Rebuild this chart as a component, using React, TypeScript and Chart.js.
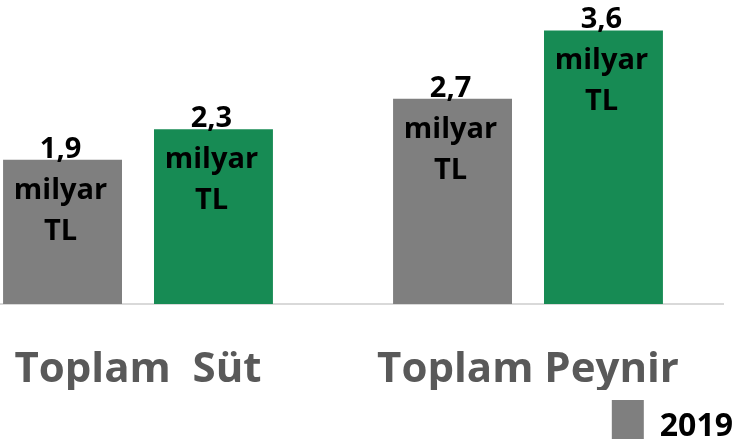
import { useEffect, useRef } from "react";
import { Chart, registerables } from "chart.js";

Chart.register(...registerables);

const categories = ["Toplam  Süt", "Toplam Peynir"];
const seriesLabels = ["2019", "2020"];
const values2019 = [1.9, 2.7];
const values2020 = [2.3, 3.6];
const unitLines = ["milyar", "TL"];
const legendShown = ["2019"];

const GRAY = "#7f7f7f";
const GREEN = "#178b54";
const FONT = "'Open Sans', sans-serif";

const fmt = (v: number) => v.toFixed(1).replace(".", ",");

const barLabels = {
  id: "barLabels",
  afterDatasetsDraw(chart: any) {
    const ctx = chart.ctx;
    ctx.save();
    ctx.font = `bold 29px ${FONT}`;
    ctx.fillStyle = "#000";
    ctx.textAlign = "center";
    ctx.textBaseline = "alphabetic";
    chart.data.datasets.forEach((ds: any, di: number) => {
      const meta = chart.getDatasetMeta(di);
      meta.data.forEach((bar: any, i: number) => {
        const lines = [fmt(ds.data[i]), ...unitLines];
        lines.forEach((t, li) => ctx.fillText(t, bar.x - 2, bar.y - 2 + li * 41));
      });
    });
    ctx.restore();
  },
};

export default function App() {
  const ref = useRef<HTMLCanvasElement>(null);
  useEffect(() => {
    const chart = new Chart(ref.current!, {
      type: "bar",
      data: {
        labels: categories,
        datasets: [
          { label: seriesLabels[0], data: values2019, backgroundColor: GRAY, borderWidth: 0 },
          { label: seriesLabels[1], data: values2020, backgroundColor: GREEN, borderWidth: 0 },
        ],
      },
      options: {
        animation: false,
        responsive: true,
        maintainAspectRatio: false,
        layout: { padding: 0 },
        datasets: { bar: { categoryPercentage: 0.774, barPercentage: 0.788 } },
        scales: {
          x: {
            grid: { display: false, drawTicks: true, tickLength: 46 },
            border: { display: true, color: "#d9d9d9", width: 2 },
            ticks: {
              autoSkip: false,
              maxRotation: 0,
              padding: 0,
              color: "#595959",
              font: { family: FONT, size: 42, weight: "bold", lineHeight: 0.95 },
            },
          },
          y: {
            position: "right",
            min: 0,
            max: 4,
            grid: { display: false, drawTicks: false },
            border: { display: false },
            ticks: { display: false },
            afterFit: (scale: any) => {
              scale.width = 20;
            },
          },
        },
        plugins: {
          legend: {
            position: "bottom",
            align: "end",
            labels: {
              filter: (item: any) => legendShown.includes(item.text),
              padding: 10,
              boxWidth: 32,
              boxHeight: 54,
              color: "#000",
              font: { family: FONT, size: 32, weight: "bold" },
            },
          },
          tooltip: { enabled: false },
        },
      } as any,
      plugins: [barLabels],
    });
    return () => chart.destroy();
  }, []);
  return (
    <div style={{ position: "fixed", left: 0, top: 0, width: 735, height: 439, overflow: "hidden", background: "#fff" }}>
      <div style={{ position: "absolute", left: -57, top: 0, width: 800, height: 464 }}>
        <canvas ref={ref} />
      </div>
    </div>
  );
}
